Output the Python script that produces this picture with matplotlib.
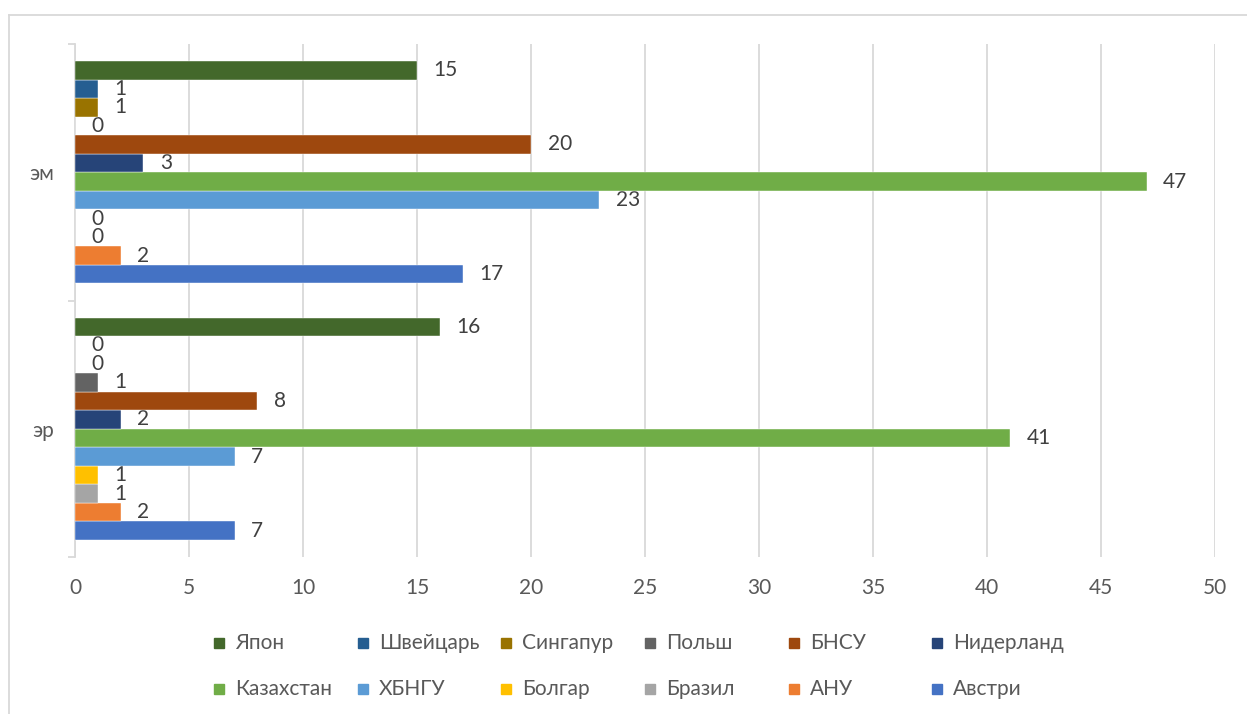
import numpy as np
import matplotlib.pyplot as plt
from matplotlib.patches import Rectangle
from matplotlib.lines import Line2D

plt.rcParams['font.family'] = ['Lato', 'DejaVu Sans']

# категории (снизу вверх) и страны
categories = ['эр', 'эм']
countries = ['Австри', 'АНУ', 'Бразил', 'Болгар', 'ХБНГУ', 'Казахстан',
             'Нидерланд', 'БНСУ', 'Польш', 'Сингапур', 'Швейцарь', 'Япон']
# значения по странам: [эр, эм]
values = {
    'Австри': [7, 17],
    'АНУ': [2, 2],
    'Бразил': [1, 0],
    'Болгар': [1, 0],
    'ХБНГУ': [7, 23],
    'Казахстан': [41, 47],
    'Нидерланд': [2, 3],
    'БНСУ': [8, 20],
    'Польш': [1, 0],
    'Сингапур': [0, 1],
    'Швейцарь': [0, 1],
    'Япон': [16, 15],
}
colors = ['#4472C4', '#ED7D31', '#A5A5A5', '#FFC000', '#5B9BD5', '#70AD47',
          '#264478', '#9E480E', '#636363', '#997300', '#255E91', '#43682B']
# порядок легенды: первая строка, вторая строка
legend_rows = [['Япон', 'Швейцарь', 'Сингапур', 'Польш', 'БНСУ', 'Нидерланд'],
               ['Казахстан', 'ХБНГУ', 'Болгар', 'Бразил', 'АНУ', 'Австри']]

W, H = 1247, 714
fig = plt.figure(figsize=(W / 100, H / 100), dpi=100)
ax = fig.add_axes([75 / W, 1 - 557 / H, (1215 - 75) / W, (557 - 44) / H])

grid_c = '#D9D9D9'
text_c = '#595959'
bar_h = 0.0722
y = np.arange(len(categories))

for k, name in enumerate(countries):
    off = (k - (len(countries) - 1) / 2) * bar_h
    vals = values[name]
    bars = ax.barh(y + off, vals, height=bar_h, color=colors[k],
                   edgecolor='white', linewidth=0.3, zorder=3)
    ax.bar_label(bars, labels=[str(v) for v in vals], padding=12,
                 fontsize=15, color='#404040')

ax.set_xlim(0, 50)
ax.set_ylim(-0.5, 1.5)
ax.set_xticks(np.arange(0, 51, 5))
ax.grid(axis='x', color=grid_c, linewidth=1.3, zorder=0)
ax.set_yticks(y)
ax.set_yticklabels(categories)
ax.set_yticks([-0.5, 0.5, 1.5], minor=True)
ax.tick_params(axis='y', which='major', length=0, pad=15, labelsize=15, labelcolor=text_c)
ax.tick_params(axis='y', which='minor', length=5, color=grid_c, width=1.3)
ax.tick_params(axis='x', length=0, pad=15, labelsize=15, labelcolor=text_c)
for s in ['top', 'right', 'bottom']:
    ax.spines[s].set_visible(False)
ax.spines['left'].set_color(grid_c)
ax.spines['left'].set_linewidth(1.3)

# легенда вручную, чтобы колонки были одинаковой ширины
col_x = [214, 358, 501, 645, 789, 932]
row_y = [643, 689]
for r, row in enumerate(legend_rows):
    for c, name in enumerate(row):
        k = countries.index(name)
        fig.patches.append(Rectangle(((col_x[c]) / W, 1 - (row_y[r] + 5) / H), 10 / W, 10 / H,
                                     transform=fig.transFigure, color=colors[k]))
        fig.text((col_x[c] + 21) / W, 1 - row_y[r] / H, name, fontsize=15,
                 color=text_c, va='center', ha='left')

# рамка диаграммы
fig.lines.append(Line2D([9 / W, 9 / W], [0, 1 - 15 / H], transform=fig.transFigure,
                        color=grid_c, linewidth=1.3))
fig.lines.append(Line2D([9 / W, 1], [1 - 15 / H, 1 - 15 / H], transform=fig.transFigure,
                        color=grid_c, linewidth=1.3))

fig.savefig('out.png', dpi=100)
